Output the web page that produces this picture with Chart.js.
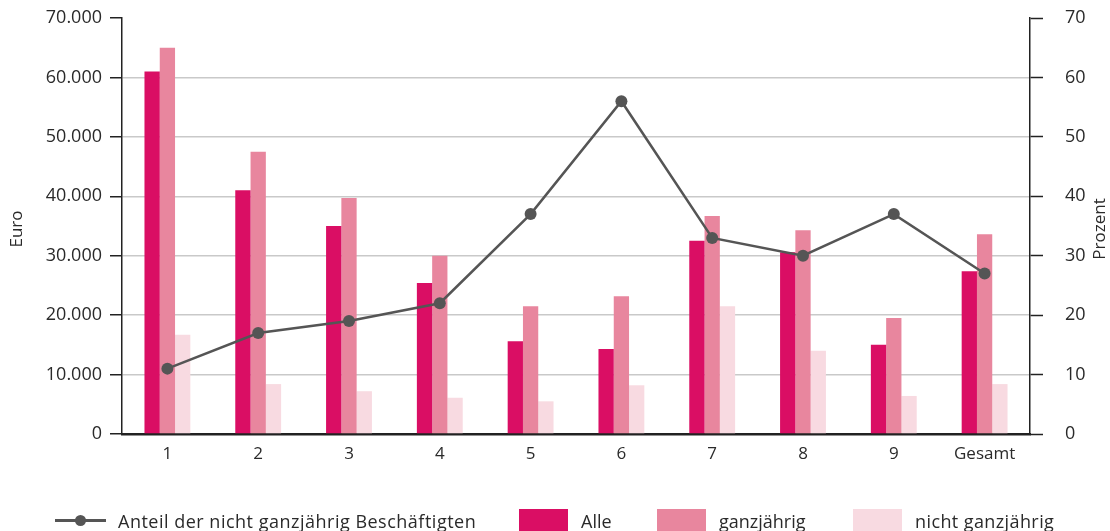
<!DOCTYPE html>
<html>
<head>
<meta charset="utf-8">
<script src="https://cdn.jsdelivr.net/npm/chart.js@4"></script>
<style>
  html, body { margin: 0; padding: 0; background: #fff; }
  #wrap { position: relative; width: 1110px; height: 531px; overflow: hidden; }
  #legend {
    position: absolute; left: 0; top: 509px; width: 1110px; height: 24px;
    font-family: "Open Sans", sans-serif; font-size: 18px; color: #2a2a2a;
  }
  .item { position: absolute; top: 0; display: flex; align-items: center; height: 24px; white-space: nowrap; }
  .box { width: 49px; height: 24px; margin-right: 13px; }
  .sym { position: relative; width: 51px; height: 24px; margin-right: 12px; }
  .sym .ln { position: absolute; left: 0; right: 0; top: 10px; height: 3px; background: #555; }
  .sym .dt { position: absolute; left: 20px; top: 6px; width: 11px; height: 11px; border-radius: 50%; background: #555; }
</style>
</head>
<body>
<div id="wrap">
  <canvas id="chart" width="1110" height="531"></canvas>
  <div id="legend"></div>
</div>
<script>
const categories = ["1", "2", "3", "4", "5", "6", "7", "8", "9", "Gesamt"];
const alle = [61000, 41000, 35000, 25400, 15600, 14300, 32500, 30600, 15000, 27400];
const ganzjaehrig = [65000, 47500, 39700, 30000, 21500, 23200, 36700, 34300, 19500, 33600];
const nichtGanzjaehrig = [16700, 8400, 7200, 6100, 5500, 8200, 21500, 14000, 6400, 8400];
const anteilNicht = [11, 17, 19, 22, 37, 56, 33, 30, 37, 27];

const colors = {
  alle: '#da0e64',
  ganz: '#e8869e',
  nicht: '#f8dae1',
  line: '#555555'
};

const fontFamily = '"Open Sans", sans-serif';
const textColor = '#2a2a2a';

// axis titles, both read bottom to top
const axisTitles = {
  id: 'axisTitles',
  afterDraw(chart) {
    const { ctx, chartArea } = chart;
    const midY = (chartArea.top + chartArea.bottom) / 2 + 3;
    ctx.save();
    ctx.fillStyle = textColor;
    ctx.font = '17px ' + fontFamily;
    ctx.textAlign = 'center';
    ctx.textBaseline = 'middle';
    [['Euro', 17], ['Prozent', 1100]].forEach(([txt, x]) => {
      ctx.save();
      ctx.translate(x, midY);
      ctx.rotate(-Math.PI / 2);
      ctx.fillText(txt, 0, 0);
      ctx.restore();
    });
    ctx.restore();
  }
};

const ctx = document.getElementById('chart').getContext('2d');

new Chart(ctx, {
  type: 'bar',
  data: {
    labels: categories,
    datasets: [
      {
        type: 'line',
        label: 'Anteil der nicht ganzjährig Beschäftigten',
        data: anteilNicht,
        yAxisID: 'yRight',
        borderColor: colors.line,
        backgroundColor: colors.line,
        borderWidth: 2.5,
        pointRadius: 6,
        pointBackgroundColor: colors.line,
        pointBorderWidth: 0,
        tension: 0,
        order: 0
      },
      { label: 'Alle', data: alle, backgroundColor: colors.alle, yAxisID: 'y', order: 1 },
      { label: 'ganzjährig', data: ganzjaehrig, backgroundColor: colors.ganz, yAxisID: 'y', order: 1 },
      { label: 'nicht ganzjährig', data: nichtGanzjaehrig, backgroundColor: colors.nicht, yAxisID: 'y', order: 1 }
    ]
  },
  options: {
    responsive: false,
    animation: false,
    layout: { padding: { top: 18, left: 0, right: 0, bottom: 0 } },
    datasets: {
      bar: { categoryPercentage: 0.505, barPercentage: 1.0 }
    },
    plugins: {
      legend: { display: false },
      tooltip: { enabled: false }
    },
    scales: {
      x: {
        grid: { display: false, drawTicks: false },
        border: { color: '#222', width: 2.5 },
        ticks: { color: textColor, font: { family: fontFamily, size: 17 }, padding: 10 },
        afterFit(scale) { scale.height = 97; }
      },
      y: {
        position: 'left',
        min: 0,
        max: 70000,
        grid: {
          color: (c) => (c.tick && (c.tick.value === 70000 || c.tick.value === 0)) ? 'rgba(0,0,0,0)' : '#c9c9c9',
          lineWidth: 1.5,
          tickColor: '#222',
          tickLength: 12,
          tickWidth: 1.5
        },
        border: { color: '#222', width: 1.5 },
        ticks: {
          stepSize: 10000,
          color: textColor,
          padding: 8,
          font: { family: fontFamily, size: 18 },
          callback: (v) => v === 0 ? '0' : v.toLocaleString('de-DE')
        },
        afterFit(scale) {
          scale.width = 122;
          scale.paddingTop = 0;
          scale.paddingBottom = 0;
        }
      },
      yRight: {
        position: 'right',
        min: 0,
        max: 70,
        grid: {
          drawOnChartArea: false,
          tickColor: '#222',
          tickLength: 13,
          tickWidth: 1.5
        },
        border: { color: '#222', width: 1.5 },
        ticks: {
          stepSize: 10,
          color: textColor,
          padding: 22,
          font: { family: fontFamily, size: 18 }
        },
        afterFit(scale) {
          scale.width = 80;
          scale.paddingTop = 0;
          scale.paddingBottom = 0;
        }
      }
    }
  },
  plugins: [axisTitles]
});

// legend below the chart
const legendItems = [
  { left: 55, label: 'Anteil der nicht ganzjährig Beschäftigten', line: true, spacing: 0.5 },
  { left: 519, label: 'Alle', color: colors.alle },
  { left: 657, label: 'ganzjährig', color: colors.ganz },
  { left: 853, label: 'nicht ganzjährig', color: colors.nicht, spacing: 0.4 }
];

const legendEl = document.getElementById('legend');
legendEl.innerHTML = legendItems.map((it) => {
  const sym = it.line
    ? '<div class="sym"><div class="ln"></div><div class="dt"></div></div>'
    : '<div class="box" style="background:' + it.color + '"></div>';
  const ls = it.spacing ? 'letter-spacing:' + it.spacing + 'px' : '';
  return '<div class="item" style="left:' + it.left + 'px">' + sym + '<span style="' + ls + '">' + it.label + '</span></div>';
}).join('');
</script>
</body>
</html>
